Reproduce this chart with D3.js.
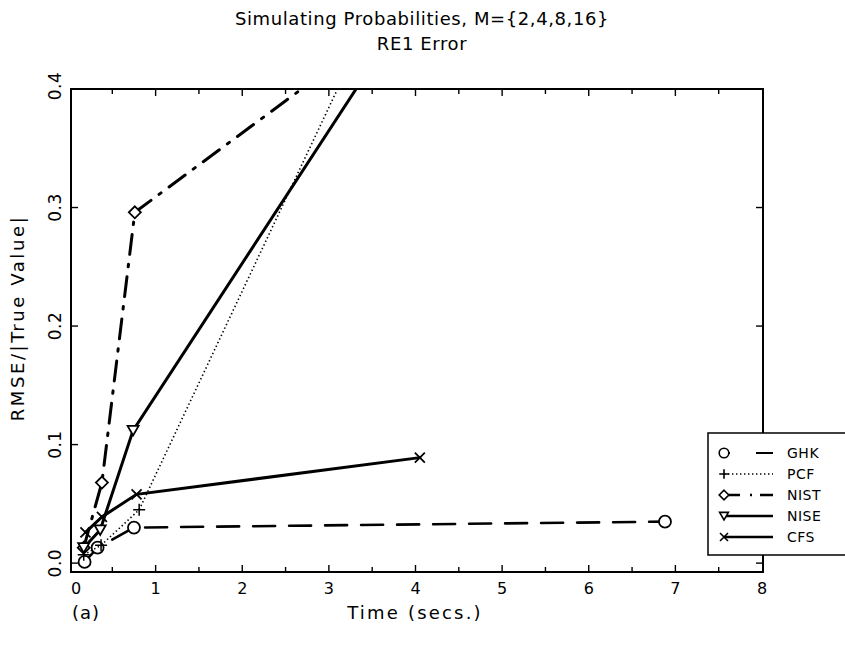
<!DOCTYPE html>
<html>
<head>
<meta charset="utf-8">
<script src="https://cdn.jsdelivr.net/npm/d3@7"></script>
<style>
  html, body { margin: 0; padding: 0; background: #fff; }
  svg { display: block; font-family: "DejaVu Sans", sans-serif; }
</style>
</head>
<body>
<svg id="chart" width="845" height="647"></svg>
<script>
// ── Data ──────────────────────────────────────────────────────────────
const seriesNames = ['GHK', 'PCF', 'NIST', 'NISE', 'CFS'];

const ghkTime  = [0.18, 0.33, 0.75, 6.88];
const ghkValue = [0.001, 0.013, 0.030, 0.035];

const pcfTime  = [0.17, 0.37, 0.81, 3.50];
const pcfValue = [0.007, 0.015, 0.045, 0.462];

const nistTime  = [0.17, 0.38, 0.76, 3.00];
const nistValue = [0.013, 0.068, 0.296, 0.417];

const niseTime  = [0.17, 0.36, 0.74, 3.60];
const niseValue = [0.013, 0.028, 0.112, 0.432];

const cfsTime  = [0.19, 0.38, 0.78, 4.05];
const cfsValue = [0.026, 0.039, 0.058, 0.089];

const xTickValues = [0, 1, 2, 3, 4, 5, 6, 7, 8];
const yTickValues = [0.0, 0.1, 0.2, 0.3, 0.4];

// ── Layout ────────────────────────────────────────────────────────────
const svg = d3.select('#chart');
const INK = '#000';

const x = d3.scaleLinear().domain([0, 8]).range([69, 762]);
const y = d3.scaleLinear().domain([-0.0075, 0.4]).range([572, 89]);

const frame = { left: 71, right: 763, top: 89, bottom: 572 };

const styles = {
  GHK:  { dash: '22,14', width: 2.6, marker: 'circle' },
  PCF:  { dash: '1.4,2.6', width: 1.6, marker: 'plus' },
  NIST: { dash: '20,10,2.5,10', width: 3, marker: 'diamond' },
  NISE: { dash: null, width: 3, marker: 'triangle' },
  CFS:  { dash: null, width: 3, marker: 'times' },
};

const series = [
  { name: 'GHK',  t: ghkTime,  v: ghkValue },
  { name: 'PCF',  t: pcfTime,  v: pcfValue },
  { name: 'NIST', t: nistTime, v: nistValue },
  { name: 'NISE', t: niseTime, v: niseValue },
  { name: 'CFS',  t: cfsTime,  v: cfsValue },
];

// marker path generators, centred on 0,0
function markerPath(kind) {
  switch (kind) {
    case 'circle':   return d3.arc()({ innerRadius: 0, outerRadius: 6, startAngle: 0, endAngle: 2 * Math.PI });
    case 'plus':     return 'M-6,0H6M0,-6V6';
    case 'diamond':  return 'M0,-6L6,0L0,6L-6,0Z';
    case 'triangle': return 'M-5.5,-4.5H5.5L0,5Z';
    case 'times':    return 'M-5,-5L5,5M-5,5L5,-5';
  }
}

function label(sel, size, spacing) {
  return sel.attr('font-size', size)
    .attr('letter-spacing', spacing)
    .attr('fill', INK);
}

// ── Titles ────────────────────────────────────────────────────────────
label(svg.append('text'), 18, 0.6)
  .attr('x', 422).attr('y', 25)
  .attr('text-anchor', 'middle')
  .text('Simulating Probabilities, M={2,4,8,16}');

label(svg.append('text'), 18, 0.6)
  .attr('x', 422).attr('y', 50)
  .attr('text-anchor', 'middle')
  .text('RE1 Error');

// ── Plot area ─────────────────────────────────────────────────────────
svg.append('defs').append('clipPath')
  .attr('id', 'plot-clip')
  .append('rect')
  .attr('x', frame.left).attr('y', frame.top)
  .attr('width', frame.right - frame.left)
  .attr('height', frame.bottom - frame.top);

const plot = svg.append('g').attr('clip-path', 'url(#plot-clip)');

const line = d3.line()
  .x(d => x(d[0]))
  .y(d => y(d[1]));

series.forEach(s => {
  const st = styles[s.name];
  const pts = s.t.map((t, i) => [t, s.v[i]]);

  plot.append('path')
    .datum(pts)
    .attr('d', line)
    .attr('fill', 'none')
    .attr('stroke', INK)
    .attr('stroke-width', st.width)
    .attr('stroke-dasharray', st.dash)
    .attr('stroke-linecap', s.name === 'PCF' ? 'butt' : 'round');

  plot.selectAll(null)
    .data(pts)
    .join('path')
    .attr('transform', d => `translate(${x(d[0])},${y(d[1])})`)
    .attr('d', markerPath(st.marker))
    .attr('fill', st.marker === 'plus' || st.marker === 'times' ? 'none' : '#fff')
    .attr('stroke', INK)
    .attr('stroke-width', st.marker === 'plus' ? 1.5 : 1.8);
});

// ── Frame and ticks ───────────────────────────────────────────────────
svg.append('rect')
  .attr('x', frame.left).attr('y', frame.top)
  .attr('width', frame.right - frame.left)
  .attr('height', frame.bottom - frame.top)
  .attr('fill', 'none')
  .attr('stroke', INK)
  .attr('stroke-width', 2);

const xMinor = d3.range(0.5, 8, 0.5);
const ticks = svg.append('g').attr('stroke', INK).attr('stroke-width', 1.4);

xMinor.forEach(t => {
  const len = Number.isInteger(t) ? 7 : 5;
  ticks.append('line')
    .attr('x1', x(t)).attr('x2', x(t))
    .attr('y1', frame.bottom).attr('y2', frame.bottom - len);
  ticks.append('line')
    .attr('x1', x(t)).attr('x2', x(t))
    .attr('y1', frame.top).attr('y2', frame.top + len);
});

yTickValues.slice(0, -1).forEach(v => {
  ticks.append('line')
    .attr('x1', frame.left).attr('x2', frame.left + 7)
    .attr('y1', y(v)).attr('y2', y(v));
  ticks.append('line')
    .attr('x1', frame.right).attr('x2', frame.right - 7)
    .attr('y1', y(v)).attr('y2', y(v));
});

// tick labels
svg.append('g')
  .selectAll('text')
  .data(xTickValues)
  .join('text')
  .call(label, 16, 0)
  .attr('x', d => x(d) + (d === 0 ? 7 : 0))
  .attr('y', 594)
  .attr('text-anchor', 'middle')
  .text(d => d);

svg.append('g')
  .selectAll('text')
  .data(yTickValues)
  .join('text')
  .call(label, 17, 0.5)
  .attr('transform', d => `translate(61,${d === 0.4 ? 86 : y(d)}) rotate(-90)`)
  .attr('text-anchor', 'middle')
  .text(d => d.toFixed(1));

// axis titles
label(svg.append('text'), 18, 2.2)
  .attr('x', 415).attr('y', 619)
  .attr('text-anchor', 'middle')
  .text('Time (secs.)');

label(svg.append('text'), 18, 1)
  .attr('x', 86).attr('y', 619)
  .attr('text-anchor', 'middle')
  .text('(a)');

label(svg.append('text'), 18, 2.6)
  .attr('transform', 'translate(24,318) rotate(-90)')
  .attr('text-anchor', 'middle')
  .text('RMSE/|True Value|');

// ── Legend ────────────────────────────────────────────────────────────
const legend = svg.append('g');
legend.append('rect')
  .attr('x', 708).attr('y', 433)
  .attr('width', 150).attr('height', 122)
  .attr('fill', '#fff')
  .attr('stroke', INK)
  .attr('stroke-width', 1.5);

seriesNames.forEach((name, i) => {
  const st = styles[name];
  const ly = 453 + i * 21;
  legend.append('line')
    .attr('x1', 724).attr('x2', 773)
    .attr('y1', ly).attr('y2', ly)
    .attr('stroke', INK)
    .attr('stroke-width', st.width * 0.8)
    .attr('stroke-dasharray', name === 'GHK' ? '6,26,20' : name === 'NIST' ? '16,10,2,8' : st.dash);
  legend.append('path')
    .attr('transform', `translate(724,${ly}) scale(0.8)`)
    .attr('d', markerPath(st.marker))
    .attr('fill', st.marker === 'plus' || st.marker === 'times' ? 'none' : '#fff')
    .attr('stroke', INK)
    .attr('stroke-width', 2);
  label(legend.append('text'), 14, 0.5)
    .attr('x', 787).attr('y', ly + 5)
    .text(name);
});
</script>
</body>
</html>
